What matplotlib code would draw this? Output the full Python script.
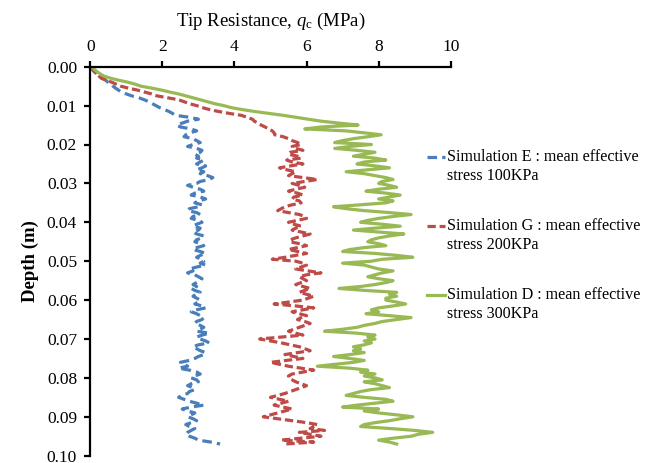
import matplotlib
matplotlib.use("Agg")
import matplotlib.pyplot as plt
from matplotlib.lines import Line2D

plt.rcParams['font.family'] = ['Liberation Serif', 'DejaVu Serif']
plt.rcParams['mathtext.fontset'] = 'custom'
plt.rcParams['mathtext.rm'] = 'Liberation Serif'
plt.rcParams['mathtext.it'] = 'Liberation Serif:italic'

# ---------------- data ----------------
depth = [0.0000, 0.0005, 0.0010, 0.0015, 0.0020, 0.0025, 0.0030, 0.0035, 0.0040, 0.0045,
         0.0050, 0.0055, 0.0060, 0.0065, 0.0070, 0.0075, 0.0080, 0.0085, 0.0090, 0.0095,
         0.0100, 0.0105, 0.0110, 0.0115, 0.0120, 0.0125, 0.0130, 0.0135, 0.0140, 0.0145,
         0.0150, 0.0155, 0.0160, 0.0165, 0.0170, 0.0175, 0.0180, 0.0185, 0.0190, 0.0195,
         0.0200, 0.0205, 0.0210, 0.0215, 0.0220, 0.0225, 0.0230, 0.0235, 0.0240, 0.0245,
         0.0250, 0.0255, 0.0260, 0.0265, 0.0270, 0.0275, 0.0280, 0.0285, 0.0290, 0.0295,
         0.0300, 0.0305, 0.0310, 0.0315, 0.0320, 0.0325, 0.0330, 0.0335, 0.0340, 0.0345,
         0.0350, 0.0355, 0.0360, 0.0365, 0.0370, 0.0375, 0.0380, 0.0385, 0.0390, 0.0395,
         0.0400, 0.0405, 0.0410, 0.0415, 0.0420, 0.0425, 0.0430, 0.0435, 0.0440, 0.0445,
         0.0450, 0.0455, 0.0460, 0.0465, 0.0470, 0.0475, 0.0480, 0.0485, 0.0490, 0.0495,
         0.0500, 0.0505, 0.0510, 0.0515, 0.0520, 0.0525, 0.0530, 0.0535, 0.0540, 0.0545,
         0.0550, 0.0555, 0.0560, 0.0565, 0.0570, 0.0575, 0.0580, 0.0585, 0.0590, 0.0595,
         0.0600, 0.0605, 0.0610, 0.0615, 0.0620, 0.0625, 0.0630, 0.0635, 0.0640, 0.0645,
         0.0650, 0.0655, 0.0660, 0.0665, 0.0670, 0.0675, 0.0680, 0.0685, 0.0690, 0.0695,
         0.0700, 0.0705, 0.0710, 0.0715, 0.0720, 0.0725, 0.0730, 0.0735, 0.0740, 0.0745,
         0.0750, 0.0755, 0.0760, 0.0765, 0.0770, 0.0775, 0.0780, 0.0785, 0.0790, 0.0795,
         0.0800, 0.0805, 0.0810, 0.0815, 0.0820, 0.0825, 0.0830, 0.0835, 0.0840, 0.0845,
         0.0850, 0.0855, 0.0860, 0.0865, 0.0870, 0.0875, 0.0880, 0.0885, 0.0890, 0.0895,
         0.0900, 0.0905, 0.0910, 0.0915, 0.0920, 0.0925, 0.0930, 0.0935, 0.0940, 0.0945,
         0.0950, 0.0955, 0.0960, 0.0965, 0.0970]

qc_E = [0.00, 0.04, 0.08, 0.13, 0.22, 0.30, 0.36, 0.43, 0.49, 0.58,
        0.63, 0.70, 0.78, 0.86, 1.00, 1.15, 1.35, 1.50, 1.62, 1.72,
        1.82, 1.92, 2.05, 2.18, 2.28, 2.36, 2.75, 3.00, 2.70, 2.55,
        2.40, 2.50, 2.80, 2.95, 2.75, 2.65, 2.60, 2.85, 2.95, 3.05,
        2.85, 2.70, 2.95, 3.10, 3.05, 2.90, 3.00, 2.95, 3.15, 3.05,
        2.95, 3.20, 3.10, 2.95, 3.15, 3.05, 3.25, 3.40, 3.30, 3.05,
        2.95, 2.70, 2.85, 3.05, 3.15, 2.90, 2.80, 3.05, 3.20, 3.00,
        2.90, 3.10, 3.00, 2.75, 2.70, 2.95, 3.05, 2.85, 2.80, 3.00,
        3.10, 2.95, 2.85, 3.05, 3.00, 2.85, 2.95, 3.15, 3.10, 2.95,
        2.90, 3.05, 3.15, 2.95, 2.85, 3.05, 3.20, 3.05, 2.95, 3.10,
        3.15, 3.05, 3.20, 2.95, 2.75, 2.85, 2.70, 2.90, 3.00, 3.10,
        3.05, 2.95, 2.85, 2.95, 2.80, 2.90, 3.05, 2.95, 2.85, 2.95,
        3.05, 3.00, 2.90, 3.10, 3.20, 2.95, 2.80, 2.95, 3.05, 3.15,
        3.10, 2.95, 2.90, 3.05, 3.15, 3.05, 2.95, 3.30, 3.10, 2.95,
        3.05, 3.20, 3.30, 3.00, 2.85, 2.95, 3.05, 3.20, 3.15, 3.00,
        2.90, 2.75, 2.50, 2.60, 2.70, 2.45, 2.75, 2.95, 3.05, 2.90,
        2.80, 2.95, 3.00, 2.80, 2.70, 2.85, 2.90, 2.75, 2.70, 2.55,
        2.45, 2.60, 2.75, 2.95, 3.15, 2.80, 2.55, 2.70, 2.90, 2.80,
        2.70, 2.85, 2.95, 2.80, 2.65, 2.75, 2.90, 2.80, 2.70, 2.65,
        2.75, 2.90, 3.00, 3.35, 3.60]

qc_G = [0.00, 0.05, 0.10, 0.15, 0.20, 0.25, 0.31, 0.45, 0.60, 0.72,
        0.84, 1.05, 1.30, 1.50, 1.70, 1.85, 2.15, 2.45, 2.60, 2.75,
        2.95, 3.10, 3.30, 3.55, 3.85, 4.19, 4.35, 4.50, 4.55, 4.65,
        4.74, 4.85, 4.95, 5.05, 5.10, 5.12, 5.35, 5.50, 5.60, 5.75,
        5.85, 5.60, 5.70, 5.90, 5.55, 5.50, 5.75, 5.85, 5.45, 5.60,
        5.90, 5.55, 5.25, 5.45, 5.70, 5.60, 5.50, 5.90, 6.30, 5.95,
        5.60, 5.80, 5.95, 5.70, 5.50, 5.75, 5.90, 5.65, 5.60, 5.80,
        5.85, 5.60, 5.40, 5.30, 5.20, 5.50, 5.80, 5.95, 6.00, 5.75,
        5.50, 5.65, 5.85, 5.70, 5.60, 5.85, 6.10, 5.90, 5.70, 5.55,
        5.55, 5.80, 6.00, 5.75, 5.50, 5.75, 6.00, 5.70, 5.40, 5.05,
        5.70, 5.90, 6.00, 5.85, 5.70, 6.05, 6.40, 6.00, 5.80, 5.90,
        6.00, 5.85, 5.70, 5.90, 6.10, 5.95, 5.80, 6.00, 6.20, 6.05,
        5.90, 5.50, 5.10, 5.70, 6.20, 5.90, 5.60, 5.80, 6.00, 5.85,
        5.75, 5.95, 6.10, 5.95, 5.80, 5.65, 5.50, 5.70, 5.90, 5.30,
        4.70, 5.00, 5.30, 5.55, 5.80, 5.95, 6.10, 5.75, 5.40, 5.65,
        5.90, 5.45, 5.00, 5.25, 5.50, 5.85, 6.20, 5.90, 5.60, 5.50,
        5.50, 5.60, 5.70, 5.85, 6.00, 5.85, 5.70, 5.55, 5.40, 5.20,
        5.00, 5.25, 5.50, 5.30, 5.10, 5.35, 5.60, 5.40, 5.20, 5.00,
        4.80, 5.20, 5.60, 6.00, 6.30, 6.20, 6.10, 6.50, 5.80, 6.10,
        6.40, 5.85, 5.30, 6.20, 5.40]

qc_D = [0.00, 0.10, 0.15, 0.22, 0.30, 0.40, 0.58, 0.80, 1.05, 1.25,
        1.40, 1.70, 1.97, 2.20, 2.45, 2.65, 2.85, 3.05, 3.25, 3.45,
        3.70, 3.90, 4.20, 4.55, 4.95, 5.35, 5.70, 6.05, 6.40, 6.90,
        7.43, 6.40, 5.95, 7.10, 7.60, 8.07, 7.70, 7.30, 7.00, 6.78,
        7.80, 7.20, 6.78, 7.40, 7.90, 7.60, 7.30, 7.90, 8.20, 7.60,
        7.40, 7.90, 8.30, 7.70, 7.10, 7.60, 7.90, 8.20, 8.40, 8.10,
        8.00, 8.30, 8.50, 8.00, 7.65, 8.20, 8.60, 8.30, 8.00, 8.40,
        8.20, 7.50, 6.75, 7.10, 7.60, 8.30, 8.90, 8.40, 8.00, 7.70,
        7.50, 8.10, 8.60, 7.90, 7.30, 8.00, 8.70, 8.30, 8.00, 7.80,
        7.70, 8.00, 8.20, 7.60, 7.20, 7.00, 7.90, 8.50, 8.95, 8.10,
        7.80, 7.00, 7.60, 7.80, 8.00, 8.40, 8.10, 7.90, 7.70, 8.00,
        8.40, 8.20, 7.90, 7.50, 6.90, 7.60, 8.50, 8.30, 8.50, 8.20,
        8.20, 8.50, 8.75, 8.40, 8.00, 7.80, 8.00, 7.65, 8.30, 8.90,
        8.50, 8.10, 7.90, 7.60, 7.40, 7.00, 6.50, 7.40, 7.90, 7.70,
        7.90, 7.60, 7.80, 7.60, 7.30, 7.50, 7.30, 7.60, 7.20, 6.75,
        7.20, 7.60, 7.30, 6.80, 6.30, 7.20, 7.70, 7.50, 7.90, 7.60,
        7.90, 8.10, 7.60, 7.90, 8.10, 8.30, 7.80, 7.50, 7.30, 7.10,
        7.60, 8.20, 8.40, 7.90, 7.40, 7.00, 8.00, 7.60, 8.00, 8.50,
        8.95, 8.60, 8.30, 7.90, 7.60, 7.50, 8.30, 9.00, 9.50, 9.10,
        8.90, 8.40, 8.00, 8.30, 8.50]

legend_lines = [("Simulation E : mean effective", "stress 100KPa"),
                ("Simulation G : mean effective", "stress 200KPa"),
                ("Simulation D : mean effective", "stress 300KPa")]
x_ticks = [0, 2, 4, 6, 8, 10]
y_ticks = [0.00, 0.01, 0.02, 0.03, 0.04, 0.05, 0.06, 0.07, 0.08, 0.09, 0.10]

colors = ['#4A7EBB', '#BE4B48', '#98B954']
styles = [(0, (3.0, 1.6)), (0, (2.6, 1.2)), '-']

# ---------------- figure ----------------
W, H = 653, 463
fig = plt.figure(figsize=(W / 100, H / 100), dpi=100)
ax = fig.add_axes([90.3 / W, 1 - 455.7 / H, (450.7 - 90.3) / W, (455.7 - 66.7) / H])

for q, c, ls in zip([qc_E, qc_G, qc_D], colors, styles):
    ax.plot(q, depth, color=c, lw=2.3, linestyle=ls, solid_joinstyle='round')

ax.set_xlim(0, 10)
ax.set_ylim(0.10, 0.0)
ax.set_xticks(x_ticks)
ax.set_yticks(y_ticks)
ax.set_yticklabels([f"{v:.2f}" for v in y_ticks])
ax.xaxis.tick_top()
ax.xaxis.set_label_position('top')
ax.spines['bottom'].set_visible(False)
ax.spines['right'].set_visible(False)
for s in ['top', 'left']:
    ax.spines[s].set_linewidth(1.6)
ax.tick_params(axis='both', direction='out', length=4.5, width=1.6, labelsize=12.5)
ax.tick_params(axis='x', pad=4)
ax.tick_params(axis='y', pad=5)

ax.set_xlabel(r"Tip Resistance, $\mathit{q}_{\mathrm{c}}$ (MPa)", fontsize=13.5, labelpad=9)
ax.set_ylabel("Depth (m)", fontsize=13.5, fontweight='bold', labelpad=6)

# legend drawn as in the original (handle aligned with the first text line)
for (l1, l2), c, ls, ypx in zip(legend_lines, colors, styles, [157, 226, 295]):
    yf = 1 - ypx / H
    fig.add_artist(Line2D([427 / W, 445 / W], [yf, yf], transform=fig.transFigure,
                          color=c, lw=2.3, linestyle=ls))
    fig.text(447 / W, yf, l1, fontsize=11.6, va='center', ha='left')
    fig.text(447 / W, 1 - (ypx + 18.5) / H, l2, fontsize=11.6, va='center', ha='left')

fig.savefig("out.png", dpi=100)
